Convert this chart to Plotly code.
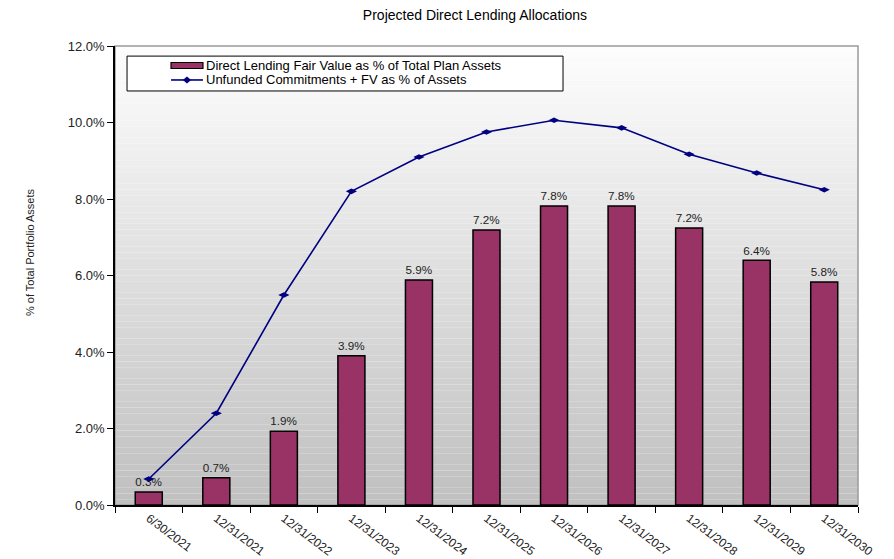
import plotly.graph_objects as go

categories = ["6/30/2021", "12/31/2021", "12/31/2022", "12/31/2023", "12/31/2024",
              "12/31/2025", "12/31/2026", "12/31/2027", "12/31/2028", "12/31/2029", "12/31/2030"]
fair_value_pct = [0.34, 0.71, 1.93, 3.90, 5.88, 7.19, 7.82, 7.82, 7.24, 6.40, 5.83]
unfunded_plus_fv_pct = [0.68, 2.40, 5.49, 8.20, 9.10, 9.75, 10.06, 9.86, 9.17, 8.68, 8.24]
y_ticks = [0, 2, 4, 6, 8, 10, 12]
series_names = ["Direct Lending Fair Value as % of Total Plan Assets",
                "Unfunded Commitments + FV as % of Assets"]

FONT = "Arial, Liberation Sans, sans-serif"
BAR_COLOR = "#993366"
LINE_COLOR = "#000080"

fig = go.Figure()
fig.add_trace(go.Bar(
    x=categories, y=fair_value_pct,
    name=series_names[0],
    marker=dict(color=BAR_COLOR, line=dict(color="#000000", width=1.5)),
    width=0.4,
    texttemplate="%{y:.1f}%", textposition="outside",
    textfont=dict(family=FONT, size=13, color="#222222"),
    cliponaxis=False,
))
fig.add_trace(go.Scatter(
    x=categories, y=unfunded_plus_fv_pct,
    name=series_names[1],
    mode="lines+markers",
    line=dict(color=LINE_COLOR, width=1.6),
    marker=dict(symbol="diamond-wide", size=8, color=LINE_COLOR),
))

# gradient plot background
shapes = []
n = 80
top = (253, 253, 253)
bot = (192, 192, 192)
for i in range(n):
    t = i / (n - 1)
    c = tuple(int(round(top[k] + (bot[k] - top[k]) * t)) for k in range(3))
    y1 = 1 - i / n
    y0 = 1 - (i + 1) / n
    shapes.append(dict(type="rect", xref="paper", yref="paper", x0=0, x1=1, y0=y0, y1=y1,
                       fillcolor="rgb(%d,%d,%d)" % c, line=dict(width=0), layer="below"))
# plot border (gray top/right)
shapes.append(dict(type="rect", xref="paper", yref="paper", x0=0, x1=1, y0=0, y1=1,
                   line=dict(color="#9a9a9a", width=1.5), layer="below"))

# legend (drawn manually to match the compact original)
shapes.append(dict(type="rect", xref="paper", yref="paper", x0=0.0162, x1=0.603, y0=0.902, y1=0.978,
                   fillcolor="#ffffff", line=dict(color="#000000", width=1), layer="above"))
shapes.append(dict(type="rect", xref="paper", yref="paper", x0=0.0754, x1=0.1184, y0=0.951, y1=0.964,
                   fillcolor=BAR_COLOR, line=dict(color="#000000", width=1.2), layer="above"))
shapes.append(dict(type="line", xref="paper", yref="paper", x0=0.0754, x1=0.1184, y0=0.926, y1=0.926,
                   line=dict(color=LINE_COLOR, width=1.6), layer="above"))
dx, dy, cx, cy = 0.0056, 0.0075, 0.0969, 0.926
shapes.append(dict(type="path", xref="paper", yref="paper",
                   path="M %f,%f L %f,%f L %f,%f L %f,%f Z" % (cx - dx, cy, cx, cy + dy, cx + dx, cy, cx, cy - dy),
                   fillcolor=LINE_COLOR, line=dict(color=LINE_COLOR, width=0), layer="above"))

annotations = [
    dict(text=series_names[0], xref="paper", yref="paper", x=0.1198, y=0.9575, xanchor="left",
         yanchor="middle", showarrow=False, font=dict(family=FONT, size=13, color="#000000")),
    dict(text=series_names[1], xref="paper", yref="paper", x=0.1198, y=0.926, xanchor="left",
         yanchor="middle", showarrow=False, font=dict(family=FONT, size=13, color="#000000")),
    dict(text="% of Total Portfolio Assets", xref="paper", yref="paper", x=-0.1144, y=0.549,
         xanchor="center", yanchor="middle", textangle=-90, showarrow=False,
         font=dict(family=FONT, size=11, color="#222222")),
]

fig.update_layout(
    template="none",
    width=886, height=551,
    margin=dict(l=107, r=36, t=38, b=54, autoexpand=False),
    paper_bgcolor="white",
    plot_bgcolor="rgba(0,0,0,0)",
    font=dict(family=FONT, size=11, color="#222222"),
    title=dict(text="Projected Direct Lending Allocations", x=0.527, xanchor="center",
               y=0.987, yanchor="middle", font=dict(family=FONT, size=14, color="#000000")),
    showlegend=False,
    shapes=shapes,
    annotations=annotations,
    bargap=0.6,
    xaxis=dict(type="category", range=[-0.5, len(categories) - 0.5], showgrid=False,
               zeroline=False, showline=True,
               linecolor="#000000", linewidth=1.5, ticks="outside", tickson="boundaries",
               ticklen=6, tickcolor="#000000", tickangle=37, automargin=False,
               tickfont=dict(family=FONT, size=12, color="#222222")),
    yaxis=dict(range=[0, 12], tickvals=y_ticks, ticktext=["%.1f%%" % v for v in y_ticks],
               showgrid=False, zeroline=False, showline=True, linecolor="#000000", linewidth=1.5,
               ticks="outside", ticklen=6, tickcolor="#000000", automargin=False,
               tickfont=dict(family=FONT, size=13, color="#222222")),
)

fig.write_html("out.html")
